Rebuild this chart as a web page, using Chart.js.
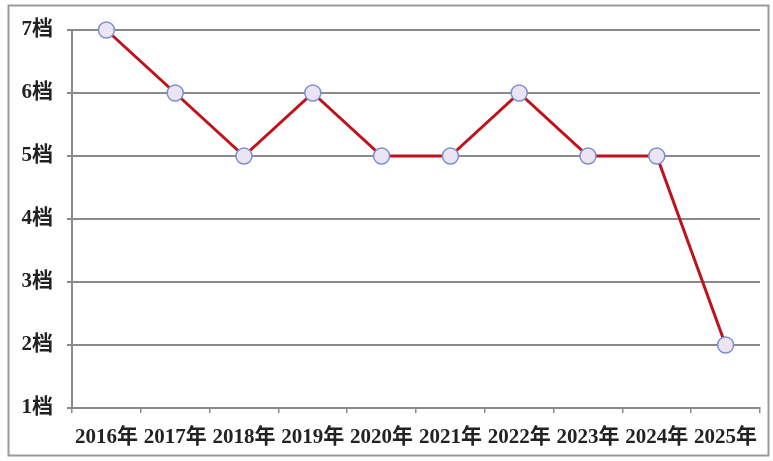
<!DOCTYPE html>
<html><head><meta charset="utf-8">
<script src="https://cdn.jsdelivr.net/npm/chart.js@4"></script>
<style>html,body{margin:0;padding:0;background:#fff;}#wrap{width:773px;height:461px;}</style>
</head><body><div id="wrap"><canvas id="c" width="773" height="461"></canvas></div>
<script>
const categories = ['2016年','2017年','2018年','2019年','2020年','2021年','2022年','2023年','2024年','2025年'];
const levels = [7,6,5,6,5,5,6,5,5,2];
const yTickSuffix = '档';

const framePlugin = {
  id: 'frame',
  beforeDraw(chart) {
    const ctx = chart.ctx;
    ctx.save();
    ctx.fillStyle = '#fff';
    ctx.fillRect(0,0,chart.width,chart.height);
    ctx.strokeStyle = '#9a9a9a';
    ctx.lineWidth = 2;
    ctx.strokeRect(8.5,5.5,760,450);
    ctx.restore();
  }
};

new Chart(document.getElementById('c'), {
  type: 'line',
  data: {
    labels: categories,
    datasets: [{
      data: levels,
      borderColor: '#c0121a',
      borderWidth: 3,
      tension: 0,
      pointRadius: 8,
      pointBackgroundColor: '#ebe4f3',
      pointBorderColor: '#7b8fd2',
      pointBorderWidth: 1.5,
      clip: false
    }]
  },
  options: {
    responsive: false,
    animation: false,
    devicePixelRatio: 1,
    plugins: { legend: { display: false }, tooltip: { enabled: false } },
    layout: { padding: { top: 30, right: 13, bottom: 13, left: 0 } },
    scales: {
      x: {
        type: 'category',
        offset: true,
        afterFit(s) { s.height = 40; },
        grid: { offset: true, drawOnChartArea: false, drawTicks: true, tickLength: 5, color: '#8a8a8a', lineWidth: 1.5 },
        border: { display: true, color: '#8a8a8a', width: 2 },
        ticks: { color: '#222', font: { family: '"Liberation Serif","Noto Sans CJK SC",serif', size: 21, weight: 'bold' }, maxRotation: 0, autoSkip: false, padding: 12 }
      },
      y: {
        min: 1, max: 7,
        afterFit(s) { s.width = 72; },
        grid: { color: '#8a8a8a', lineWidth: 2, tickLength: 5 },
        border: { display: true, color: '#8a8a8a', width: 2 },
        ticks: { stepSize: 1, color: '#222', padding: 14, font: { family: '"Liberation Serif","Noto Sans CJK SC",serif', size: 21, weight: 'bold' }, callback: v => v + yTickSuffix }
      }
    }
  },
  plugins: [framePlugin]
});
</script></body></html>
